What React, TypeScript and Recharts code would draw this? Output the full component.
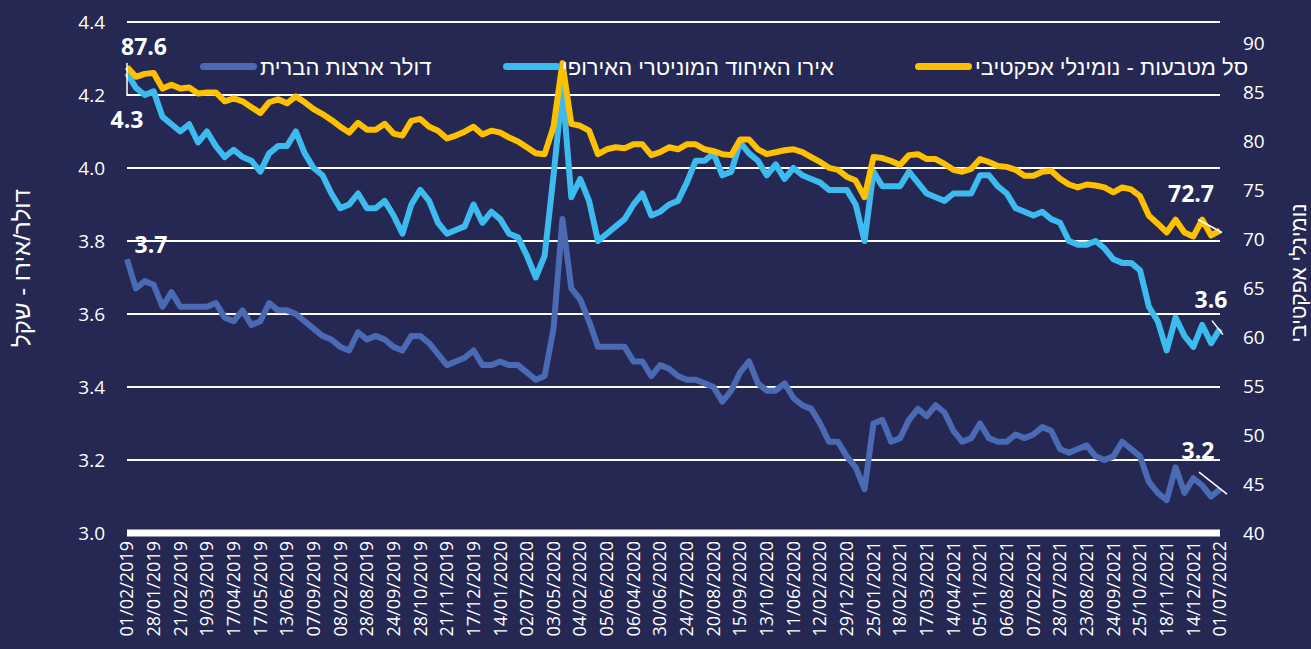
import { LineChart, Line, XAxis, YAxis, CartesianGrid, LabelList } from 'recharts';

// date labels as printed under the axis (one every 3 points)
const tickLabels = [
  '01/02/2019', '28/01/2019', '21/02/2019', '19/03/2019', '17/04/2019', '17/05/2019', '13/06/2019',
  '07/09/2019', '08/02/2019', '28/08/2019', '24/09/2019', '28/10/2019', '21/11/2019', '17/12/2019',
  '14/01/2020', '02/07/2020', '03/05/2020', '04/02/2020', '05/06/2020', '06/04/2020', '30/06/2020',
  '24/07/2020', '20/08/2020', '15/09/2020', '13/10/2020', '11/06/2020', '12/02/2020', '29/12/2020',
  '25/01/2021', '18/02/2021', '17/03/2021', '14/04/2021', '05/11/2021', '06/08/2021', '07/02/2021',
  '28/07/2021', '23/08/2021', '24/09/2021', '25/10/2021', '18/11/2021', '14/12/2021', '01/07/2022',
];

const usd = [
  3.75, 3.67, 3.69, 3.68, 3.62, 3.66, 3.62, 3.62, 3.62, 3.62,
  3.63, 3.59, 3.58, 3.61, 3.57, 3.58, 3.63, 3.61, 3.61, 3.60,
  3.58, 3.56, 3.54, 3.53, 3.51, 3.50, 3.55, 3.53, 3.54, 3.53,
  3.51, 3.50, 3.54, 3.54, 3.52, 3.49, 3.46, 3.47, 3.48, 3.50,
  3.46, 3.46, 3.47, 3.46, 3.46, 3.44, 3.42, 3.43, 3.56, 3.86,
  3.67, 3.64, 3.58, 3.51, 3.51, 3.51, 3.51, 3.47, 3.47, 3.43,
  3.46, 3.45, 3.43, 3.42, 3.42, 3.41, 3.40, 3.36, 3.39, 3.44,
  3.47, 3.41, 3.39, 3.39, 3.41, 3.37, 3.35, 3.34, 3.30, 3.25,
  3.25, 3.21, 3.18, 3.12, 3.30, 3.31, 3.25, 3.26, 3.31, 3.34,
  3.32, 3.35, 3.33, 3.28, 3.25, 3.26, 3.30, 3.26, 3.25, 3.25,
  3.27, 3.26, 3.27, 3.29, 3.28, 3.23, 3.22, 3.23, 3.24, 3.21,
  3.20, 3.21, 3.25, 3.23, 3.21, 3.14, 3.11, 3.09, 3.18, 3.11,
  3.15, 3.13, 3.10, 3.12,
];

const eur = [
  4.26, 4.22, 4.20, 4.21, 4.14, 4.12, 4.10, 4.12, 4.07, 4.10,
  4.06, 4.03, 4.05, 4.03, 4.02, 3.99, 4.04, 4.06, 4.06, 4.10,
  4.04, 4.00, 3.98, 3.93, 3.89, 3.90, 3.93, 3.89, 3.89, 3.91,
  3.87, 3.82, 3.90, 3.94, 3.91, 3.85, 3.82, 3.83, 3.84, 3.90,
  3.85, 3.88, 3.86, 3.82, 3.81, 3.76, 3.70, 3.76, 3.98, 4.22,
  3.92, 3.97, 3.91, 3.80, 3.82, 3.84, 3.86, 3.90, 3.93, 3.87,
  3.88, 3.90, 3.91, 3.96, 4.02, 4.02, 4.04, 3.98, 3.99, 4.07,
  4.04, 4.02, 3.98, 4.01, 3.97, 4.00, 3.98, 3.97, 3.96, 3.94,
  3.94, 3.94, 3.90, 3.80, 3.99, 3.95, 3.95, 3.95, 3.99, 3.96,
  3.93, 3.92, 3.91, 3.93, 3.93, 3.93, 3.98, 3.98, 3.95, 3.93,
  3.89, 3.88, 3.87, 3.88, 3.86, 3.85, 3.80, 3.79, 3.79, 3.80,
  3.78, 3.75, 3.74, 3.74, 3.72, 3.62, 3.58, 3.50, 3.59, 3.54,
  3.51, 3.57, 3.52, 3.56,
];

const basket = [
  87.6, 86.6, 86.9, 87.0, 85.4, 85.8, 85.4, 85.5, 84.9, 85.0,
  85.0, 84.1, 84.4, 84.1, 83.5, 82.9, 84.0, 84.3, 83.9, 84.6,
  84.0, 83.3, 82.8, 82.2, 81.5, 80.9, 81.9, 81.2, 81.2, 81.8,
  80.8, 80.6, 82.1, 82.3, 81.5, 81.1, 80.3, 80.6, 81.0, 81.5,
  80.7, 81.1, 80.9, 80.4, 80.0, 79.4, 78.8, 78.7, 81.5, 88.0,
  81.8, 81.6, 81.1, 78.7, 79.2, 79.4, 79.3, 79.7, 79.7, 78.6,
  78.9, 79.4, 79.2, 79.7, 79.7, 79.2, 79.0, 78.7, 78.6, 80.2,
  80.2, 79.2, 78.7, 78.9, 79.1, 79.2, 78.9, 78.4, 77.9, 77.3,
  77.1, 76.4, 76.0, 74.3, 78.4, 78.3, 78.0, 77.6, 78.6, 78.7,
  78.2, 78.2, 77.7, 77.1, 76.9, 77.2, 78.2, 77.9, 77.5, 77.4,
  77.1, 76.5, 76.5, 76.9, 77.0, 76.2, 75.6, 75.3, 75.6, 75.5,
  75.3, 74.8, 75.3, 75.1, 74.4, 72.4, 71.6, 70.7, 72.0, 70.7,
  70.3, 72.0, 70.4, 70.9,
];

const seriesKeys = ['usd', 'eur', 'basket'];
const seriesNames = ['דולר ארצות הברית', 'אירו האיחוד המוניטרי האירופי', 'סל מטבעות - נומינלי אפקטיבי'];
const startLabels = ['3.7', '4.3', '87.6'];
const endLabels = ['3.2', '3.6', '72.7'];
const leftTicks = [3.0, 3.2, 3.4, 3.6, 3.8, 4.0, 4.2, 4.4];
const rightTicks = [40, 45, 50, 55, 60, 65, 70, 75, 80, 85, 90];
const leftTitle = 'דולר/אירו - שקל';
const rightTitle = 'נומינלי אפקטיבי';

const STEP = 3;
const BG = '#252852';
const colors = ['#4a6ab3', '#3dbbee', '#ffc000'];
const FONT = '"Open Sans", "Noto Sans", "DejaVu Sans", sans-serif';
const HEB_FONT = '"Liberation Sans", Arial, "DejaVu Sans", sans-serif';

const data = usd.map((v, i) => ({ i, usd: v, eur: eur[i], basket: basket[i] }));
const xTicks = tickLabels.map((_, k) => k * STEP);

// label offsets relative to the first / last point of each line
const labelPos = [
  { start: { dx: 24, dy: -15 }, end: { dx: -22, dy: -39, lead: [-21, -17, 7, 5] } },
  { start: { dx: 0, dy: 46, lead: [0, -10, 0, 23] }, end: { dx: -9, dy: -30, lead: [-8, -8, 3, 6] } },
  { start: { dx: 17, dy: -21 }, end: { dx: -29, dy: -38, lead: [-22, -11, 2, 2] } },
];

const makeLabel = (s: number) => (props: any) => {
  const { x, y, index } = props;
  const last = data.length - 1;
  if (index !== 0 && index !== last) return null;
  const p: any = index === 0 ? labelPos[s].start : labelPos[s].end;
  const text = index === 0 ? startLabels[s] : endLabels[s];
  return (
    <g>
      {p.lead && (
        <line x1={x + p.lead[0]} y1={y + p.lead[1]} x2={x + p.lead[2]} y2={y + p.lead[3]} stroke="#fff" strokeWidth={1.5} />
      )}
      <text x={x + p.dx} y={y + p.dy} textAnchor="middle" dominantBaseline="central"
        fill="#fff" fontSize={23} fontWeight={700} fontFamily={FONT}>{text}</text>
    </g>
  );
};

const XTick = (props: any) => {
  const { x, y, payload } = props;
  return (
    <text x={x} y={y} transform={`rotate(-90 ${x} ${y})`} textAnchor="end" dy="0.35em"
      fill="#fff" fontSize={18} fontFamily={FONT}>
      {tickLabels[Math.round(payload.value / STEP)]}
    </text>
  );
};

const legendPos = [
  { swatch: 200, text: 260 },
  { swatch: 503, text: 562 },
  { swatch: 915, text: 975 },
];

export default function App() {
  return (
    <div style={{ position: 'fixed', left: 0, top: 0, width: 1311, height: 649, background: BG, fontFamily: FONT }}>
      <LineChart width={1311} height={649} data={data} margin={{ top: 22, right: 0, bottom: 0, left: 0 }}>
        <CartesianGrid yAxisId="left" vertical={false} stroke="#ffffff" strokeWidth={2} />
        <XAxis dataKey="i" type="number" domain={[0, data.length - 1]} ticks={xTicks} interval={0}
          height={116} tick={<XTick />} tickLine={false} tickSize={0} tickMargin={8}
          axisLine={{ stroke: '#ffffff', strokeWidth: 7 }} />
        <YAxis yAxisId="left" domain={[3.0, 4.4]} ticks={leftTicks} width={127} axisLine={false}
          tickLine={false} tickSize={0} tickMargin={22} tickFormatter={(v: number) => v.toFixed(1)}
          tick={{ fill: '#fff', fontSize: 19, fontFamily: FONT }} />
        <YAxis yAxisId="right" orientation="right" domain={[40, 92.2]} ticks={rightTicks} width={91}
          axisLine={false} tickLine={false} tickSize={0} tickMargin={23}
          tick={{ fill: '#fff', fontSize: 19, fontFamily: FONT }} />
        {seriesKeys.map((k, s) => (
          <Line key={k} yAxisId={s === 2 ? 'right' : 'left'} dataKey={k} name={seriesNames[s]}
            type="linear" stroke={colors[s]} strokeWidth={6} dot={false} isAnimationActive={false}
            strokeLinejoin="round" strokeLinecap="butt">
            <LabelList dataKey={k} content={makeLabel(s)} />
          </Line>
        ))}
      </LineChart>

      {/* legend */}
      {seriesNames.map((n, s) => (
        <div key={n}>
          <div style={{ position: 'absolute', left: legendPos[s].swatch, top: 63, width: 57, height: 7,
            borderRadius: 4, background: colors[s] }} />
          <span dir="rtl" style={{ position: 'absolute', left: legendPos[s].text, top: 57, color: '#fff',
            fontSize: 22, fontFamily: HEB_FONT, whiteSpace: 'nowrap', lineHeight: '22px' }}>{n}</span>
        </div>
      ))}

      {/* axis titles */}
      <div dir="rtl" style={{ position: 'absolute', left: 22, top: 268, color: '#fff', fontSize: 24,
        fontFamily: HEB_FONT, whiteSpace: 'nowrap', transform: 'translate(-50%, -50%) rotate(-90deg)' }}>{leftTitle}</div>
      <div dir="rtl" style={{ position: 'absolute', left: 1299, top: 273, color: '#fff', fontSize: 21,
        fontFamily: HEB_FONT, whiteSpace: 'nowrap', transform: 'translate(-50%, -50%) rotate(-90deg)' }}>{rightTitle}</div>
    </div>
  );
}
